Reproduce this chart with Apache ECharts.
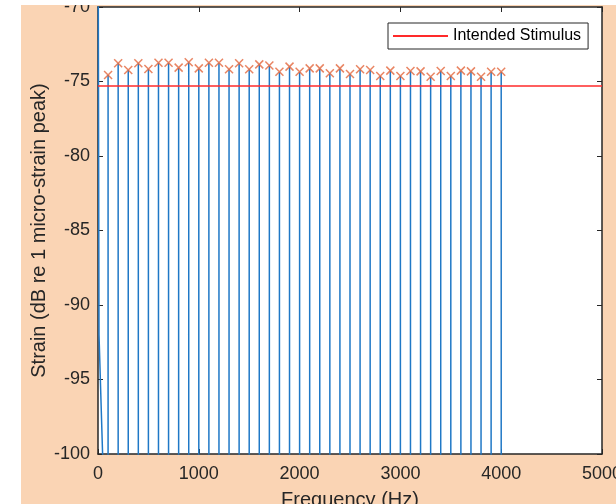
<!DOCTYPE html>
<html>
<head>
<meta charset="utf-8">
<script src="https://cdn.jsdelivr.net/npm/echarts@6/dist/echarts.min.js"></script>
<style>
  html, body { margin: 0; padding: 0; background: #fff; }
  #strainChart { width: 616px; height: 504px; }
</style>
</head>
<body>
<div id="strainChart"></div>
<script>
// harmonic peaks (Hz) and measured strain at each peak (dB re 1 micro-strain peak)
var peakFreqs = [100, 200, 300, 400, 500, 600, 700, 800, 900, 1000,
  1100, 1200, 1300, 1400, 1500, 1600, 1700, 1800, 1900, 2000,
  2100, 2200, 2300, 2400, 2500, 2600, 2700, 2800, 2900, 3000,
  3100, 3200, 3300, 3400, 3500, 3600, 3700, 3800, 3900, 4000];
var peakVals = [-74.56, -73.78, -74.23, -73.78, -74.16, -73.74, -73.74, -74.07, -73.71, -74.12,
  -73.74, -73.74, -74.18, -73.78, -74.18, -73.85, -73.92, -74.34, -74.00, -74.34,
  -74.12, -74.12, -74.45, -74.12, -74.50, -74.18, -74.23, -74.63, -74.27, -74.63,
  -74.30, -74.32, -74.68, -74.30, -74.63, -74.27, -74.32, -74.68, -74.34, -74.34];
// low-frequency start of the spectrum (near DC)
var dcFreqs = [0, 10, 50];
var dcVals = [-60, -92, -101];
var floorVal = -110;       // spectrum floor between peaks (below the axis)
var stimulusLevel = -75.3; // intended stimulus
var xTicks = { min: 0, max: 5000, step: 1000 };
var yTicks = { min: -100, max: -70, step: 5 };

var spectrum = [];
for (var i = 0; i < dcFreqs.length; i++) spectrum.push([dcFreqs[i], dcVals[i]]);
for (var j = 0; j < peakFreqs.length; j++) {
  spectrum.push([peakFreqs[j], floorVal]);
  spectrum.push([peakFreqs[j], peakVals[j]]);
  spectrum.push([peakFreqs[j], floorVal]);
}
var peaks = peakFreqs.map(function (f, k) { return [f, peakVals[k]]; });

var font = "'Liberation Sans', Arial, Helvetica, sans-serif";
var ink = '#262626';

function xAx(pos, labels) {
  return {
    type: 'value', position: pos, min: xTicks.min, max: xTicks.max, interval: xTicks.step,
    axisLine: { show: true, onZero: false, lineStyle: { color: ink, width: 1.5 } },
    axisTick: { show: true, inside: true, length: 5, lineStyle: { color: ink, width: 1 } },
    axisLabel: { show: labels, color: ink, fontSize: 18, fontFamily: font, margin: 11,
      formatter: function (v) { return String(v); } },
    splitLine: { show: false },
    name: labels ? 'Frequency (Hz)' : '', nameLocation: 'middle', nameGap: 36,
    nameMoveOverlap: false,
    nameTextStyle: { color: ink, fontSize: 20, fontFamily: font }
  };
}
function yAx(pos, labels) {
  return {
    type: 'value', position: pos, min: yTicks.min, max: yTicks.max, interval: yTicks.step,
    axisLine: { show: true, onZero: false, lineStyle: { color: ink, width: 1.5 } },
    axisTick: { show: true, inside: true, length: 5, lineStyle: { color: ink, width: 1 } },
    axisLabel: { show: labels, color: ink, fontSize: 18, fontFamily: font, margin: 8,
      formatter: function (v) { return String(v); } },
    splitLine: { show: false },
    name: labels ? 'Strain (dB re 1 micro-strain peak)' : '', nameLocation: 'middle', nameGap: 49,
    nameMoveOverlap: false,
    nameTextStyle: { color: ink, fontSize: 20, fontFamily: font }
  };
}

var myChart = echarts.init(document.getElementById('strainChart'));
myChart.setOption({
  animation: false,
  backgroundColor: '#FAD4B4',
  graphic: [
    // white margins of the screenshot crop
    { type: 'rect', z: 100, shape: { x: 0, y: 0, width: 21, height: 504 }, style: { fill: '#fff' } },
    { type: 'rect', z: 100, shape: { x: 0, y: 0, width: 616, height: 5 }, style: { fill: '#fff' } }
  ],
  grid: {
    left: 98, right: 14, top: 7, bottom: 50,
    outerBoundsMode: 'none', containLabel: false,
    show: true, backgroundColor: '#fff', borderWidth: 0
  },
  legend: {
    data: [{ name: 'Intended Stimulus', icon: 'rect' }],
    left: 388, top: 23,
    backgroundColor: '#fff', borderColor: ink, borderWidth: 1,
    padding: [5, 7, 5, 5],
    itemWidth: 55, itemHeight: 2,
    textStyle: { color: '#000', fontSize: 16, fontFamily: font }
  },
  xAxis: [xAx('bottom', true), xAx('top', false)],
  yAxis: [yAx('left', true), yAx('right', false)],
  series: [
    {
      name: 'spectrum', type: 'line', data: spectrum,
      symbol: 'none', clip: true,
      lineStyle: { color: '#1F78C6', width: 1.5 },
      z: 2
    },
    {
      name: 'Intended Stimulus', type: 'line',
      data: [[xTicks.min, stimulusLevel], [xTicks.max, stimulusLevel]],
      symbol: 'none',
      lineStyle: { color: '#FF2A2A', width: 1.5 },
      itemStyle: { color: '#FF2A2A' },
      z: 3
    },
    {
      name: 'peaks', type: 'scatter', data: peaks,
      symbol: 'path://M0,0L10,10M10,0L0,10', symbolSize: 8,
      itemStyle: { color: 'none', borderColor: '#E4663C', borderWidth: 1.5 },
      z: 4
    }
  ]
});
window.onresize = function () {
  myChart.resize();
};
</script>
</body>
</html>
